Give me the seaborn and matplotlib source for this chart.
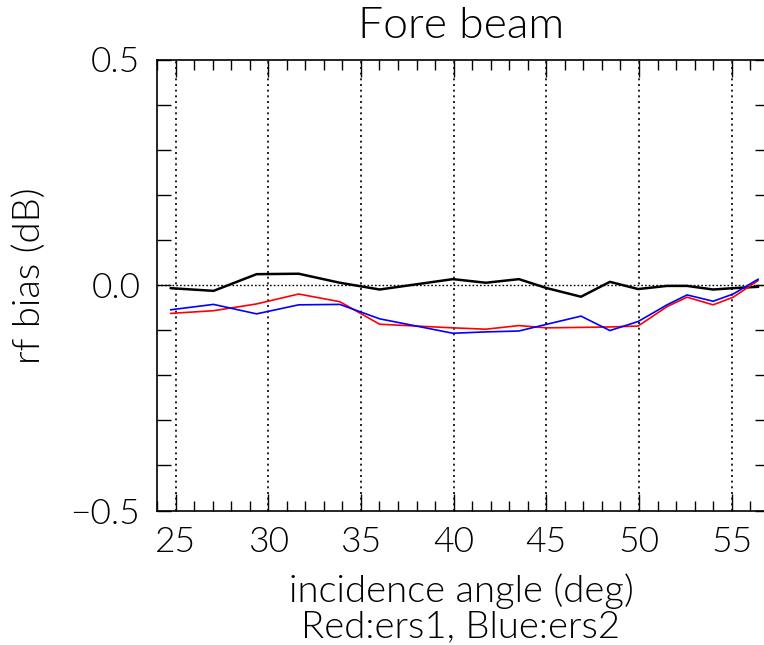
import numpy as np
import pandas as pd
import matplotlib
matplotlib.use("Agg")
import matplotlib.pyplot as plt
from matplotlib.ticker import MultipleLocator, FixedLocator
from matplotlib import font_manager
import seaborn as sns

angle = [24.73, 27.05, 29.37, 31.64, 33.86, 36.01, 39.96, 41.74, 43.52,
         45.03, 46.87, 48.43, 49.95, 51.51, 52.59, 54.00, 55.08, 56.43]
bias_all = [-0.007, -0.013, 0.024, 0.025, 0.005, -0.010, 0.013, 0.005, 0.013,
            -0.007, -0.026, 0.007, -0.009, -0.002, -0.002, -0.010, -0.007, -0.004]
bias_ers1 = [-0.063, -0.057, -0.042, -0.020, -0.037, -0.087, -0.095, -0.098, -0.090,
             -0.095, -0.094, -0.093, -0.091, -0.048, -0.027, -0.044, -0.027, 0.010]
bias_ers2 = [-0.055, -0.043, -0.064, -0.044, -0.043, -0.075, -0.107, -0.104, -0.102,
             -0.087, -0.069, -0.101, -0.081, -0.044, -0.022, -0.036, -0.020, 0.013]

x_major = [25, 30, 35, 40, 45, 50, 55]
y_major = [-0.5, 0.0, 0.5]
y_labels = ["\u22120.5", "0.0", "0.5"]

sns.set_style("ticks")
plt.rcParams["font.family"] = ["DejaVu Sans"]
plt.rcParams["text.color"] = "black"
plt.rcParams["xtick.color"] = "black"
plt.rcParams["ytick.color"] = "black"

# pick a light font if one is installed
light_family = "DejaVu Sans"
light_weight = "normal"
for f in font_manager.fontManager.ttflist:
    if f.name in ("Lato", "Roboto", "Open Sans", "Noto Sans") and f.weight in (200, 300, "light", "extra-light"):
        light_family, light_weight = f.name, f.weight
        break
fp_kw = dict(family=light_family, weight=light_weight)

df = pd.DataFrame({"angle": angle, "all": bias_all, "ers1": bias_ers1, "ers2": bias_ers2})

fig = plt.figure(figsize=(7.64, 6.45), dpi=100)
W, H = 764, 645
ax = fig.add_axes([157 / W, (H - 510.5) / H, (768.8 - 157) / W, 451 / H])

for xv in x_major:
    ax.axvline(xv, color="black", lw=1.2, ls=(0, (1.2, 2.2)), zorder=1)
ax.axhline(0.0, color="black", lw=1.0, ls=(0, (1.2, 1.5)), zorder=1)

sns.lineplot(data=df, x="angle", y="all", color="black", lw=1.8, ax=ax, zorder=3)
sns.lineplot(data=df, x="angle", y="ers1", color="#ff0000", lw=1.2, ax=ax, zorder=4)
sns.lineplot(data=df, x="angle", y="ers2", color="#0000ff", lw=1.2, ax=ax, zorder=5)

ax.set_xlim(24, 57)
ax.set_ylim(-0.5, 0.5)
ax.xaxis.set_major_locator(FixedLocator(x_major))
ax.xaxis.set_minor_locator(MultipleLocator(1))
ax.yaxis.set_major_locator(FixedLocator(y_major))
ax.yaxis.set_minor_locator(MultipleLocator(0.1))
ax.set_yticklabels(y_labels)
ax.tick_params(which="both", direction="in", top=True, right=True, color="black",
               labelcolor="black", width=1.0)
ax.tick_params(axis="x", which="major", length=12, labelsize=25.5, pad=11)
ax.tick_params(axis="x", which="minor", length=7)
ax.tick_params(axis="y", which="both", length=10, labelsize=25.5, pad=12)
for lab in ax.get_xticklabels() + ax.get_yticklabels():
    lab.set_family(light_family)
    lab.set_weight(light_weight)
for s in ax.spines.values():
    s.set_color("black")
    s.set_linewidth(1.2)
ax.set_xlabel("")
ax.set_ylabel("")

fig.text(461 / W, 1 - 27 / H, "Fore beam", ha="center", va="center", fontsize=32, color="black", **fp_kw)
fig.text(461 / W, 1 - 591 / H, "incidence angle (deg)", ha="center", va="center", fontsize=27.5, color="black", **fp_kw)
fig.text(461 / W, 1 - 627 / H, "Red:ers1, Blue:ers2", ha="center", va="center", fontsize=27.5, color="black", **fp_kw)
fig.text(30 / W, 1 - 276 / H, "rf bias (dB)", ha="center", va="center", rotation=90, fontsize=27.5, color="black", **fp_kw)

fig.savefig("out.png", dpi=100)
